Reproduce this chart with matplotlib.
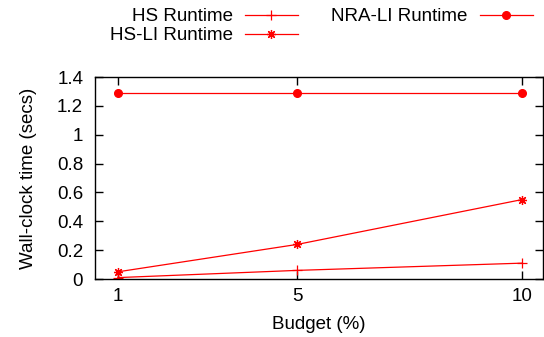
import matplotlib
matplotlib.use("Agg")
import matplotlib.pyplot as plt

budget = [1, 5, 10]
hs_runtime = [0.01, 0.06, 0.11]
hsli_runtime = [0.05, 0.24, 0.55]
nrali_runtime = [1.29, 1.29, 1.29]
yticks = [0, 0.2, 0.4, 0.6, 0.8, 1, 1.2, 1.4]

plt.rcParams['font.family'] = ['Liberation Sans', 'DejaVu Sans']
plt.rcParams['font.size'] = 13.5

fig = plt.figure(figsize=(5.44, 3.37), dpi=100)
ax = fig.add_axes([0.1746, 0.172, 0.823, 0.5995])

ax.plot(budget, hs_runtime, color='red', lw=0.9, marker='+', ms=7, mew=0.9, label='HS Runtime')
ax.plot(budget, hsli_runtime, color='red', lw=0.9, marker=(8, 2, 0), ms=6.5, mew=0.9, label='HS-LI Runtime')
ax.plot(budget, nrali_runtime, color='red', lw=0.9, marker='o', ms=5.5, label='NRA-LI Runtime')

ax.set_xlim(0.49, 10.47)
ax.set_ylim(0, 1.4)
ax.set_xticks(budget)
ax.set_xticklabels(['1', '5', '10'])
ax.set_yticks(yticks)
ax.set_yticklabels(['0', '0.2', '0.4', '0.6', '0.8', '1', '1.2', '1.4'])
ax.tick_params(direction='in', length=6, width=1, top=True, right=True)
ax.tick_params(axis='y', pad=8.5)
ax.tick_params(axis='x', pad=6.5)
for s in ax.spines.values():
    s.set_linewidth(1.0)

ax.set_xlabel('Budget (%)', labelpad=8)
ax.set_ylabel('Wall-clock time (secs)', labelpad=14)

fig.legend(loc='upper right', bbox_to_anchor=(533 / 544, 1 - 8 / 337), ncol=2, frameon=False,
           markerfirst=False, handlelength=2.85, columnspacing=1.75, handletextpad=0.65,
           labelspacing=0.12, borderaxespad=0, borderpad=0)

fig.savefig('out.png', dpi=100)
